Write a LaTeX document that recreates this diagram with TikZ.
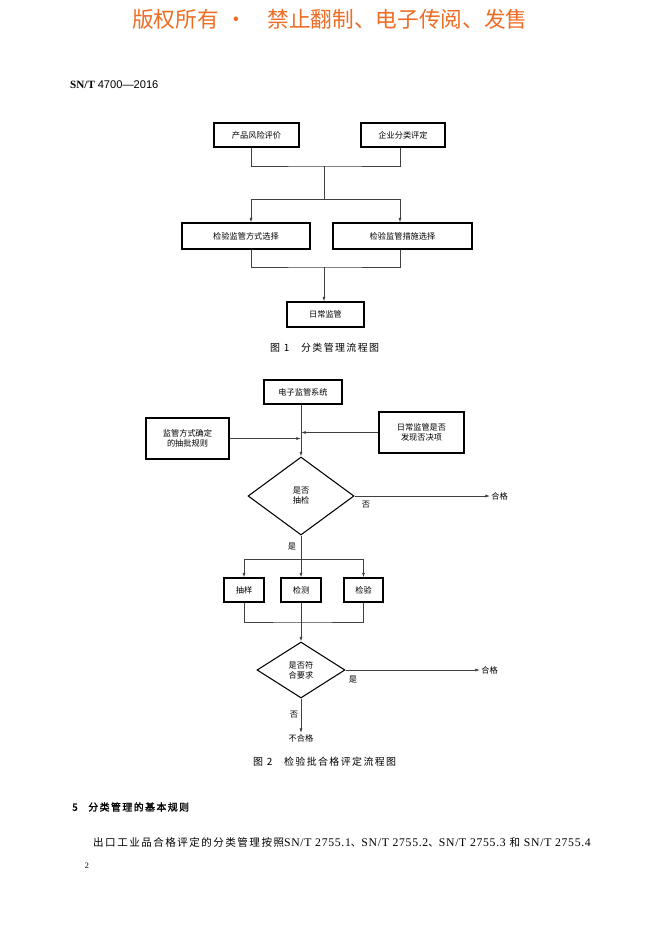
\documentclass[tikz,border=0pt]{standalone}
\usepackage{fontspec}
\setmainfont{Liberation Serif}
\setsansfont{Liberation Sans}
\newfontfamily\cjk{Noto Sans CJK SC}
\newfontfamily\cjkesp[LetterSpace=14]{Noto Sans CJK SC}
\newfontfamily\cjkneg[LetterSpace=14,FakeBold=1.5]{Noto Sans CJK SC}
\newfontfamily\latesp[LetterSpace=6]{Liberation Serif}
\usetikzlibrary{positioning, arrows.meta, calc, shapes.geometric}
\definecolor{naranja}{RGB}{238,108,36}

\begin{document}
\begin{tikzpicture}[
		% Escala en pixeles de la pagina
		x=0.03cm, y=-0.03cm,
		% Estilos de cajas y rombos
		caja/.style={draw=black, line width=0.9pt, rectangle, inner sep=0pt, align=center, font=\cjk\fontsize{7}{8.6}\selectfont},
		rombo/.style={draw=black, line width=0.9pt, diamond, inner sep=0pt, align=center, font=\cjk\fontsize{7}{8.6}\selectfont},
		% Estilo de flechas y etiquetas
		linea/.style={draw=black!75, line width=0.6pt},
		flecha/.style={linea, -{Latex[length=4pt, width=2.6pt]}},
		etiqueta/.style={font=\cjk\fontsize{7}{8}\selectfont, inner sep=1pt},
		titulo/.style={font=\cjkesp\fontsize{8.5}{10}\selectfont, inner sep=0pt}
		]
		
		% --- PAGINA ---
		\fill[white] (0,0) rectangle (662,936);
		\useasboundingbox (0,0) rectangle (662,936);
		\node[font=\cjk\fontsize{18.5}{20}\selectfont, text=naranja, inner sep=0pt, anchor=west] (marca) at (132,19) {版权所有\kern 6pt·\kern 17pt 禁止翻制、电子传阅、发售};
		\node[anchor=west, inner sep=0pt, font=\fontsize{9.5}{10}\selectfont] (norma) at (70,85) {\textbf{SN/T}\ \sffamily 4700—2016};
		
		% --- FIGURA 1 ---
		\coordinate (ejeI) at (251,0);
		\coordinate (ejeD) at (400,0);
		\node[caja, minimum width=2.55cm, minimum height=0.72cm] (riesgo) at (256.5,135) {产品风险评价};
		\node[caja, minimum width=2.52cm, minimum height=0.72cm] (empresa) at (403,135) {企业分类评定};
		\node[caja, minimum width=3.84cm, minimum height=0.78cm] (modo) at (246,236) {检验监管方式选择};
		\node[caja, minimum width=4.17cm, minimum height=0.78cm] (medidas) at (402.5,236) {检验监管措施选择};
		\node[caja, minimum width=2.31cm, minimum height=0.75cm] (diario) at (325.5,314.5) {日常监管};
		
		% Uniones y repartos
		\coordinate (union1) at (324,166);
		\coordinate (reparto1) at (324,199);
		\coordinate (union2) at (324,267);
		\draw[linea] (riesgo.south -| ejeI) |- (union1) -| (empresa.south -| ejeD);
		\draw[linea] (union1) -- (reparto1);
		\draw[flecha] (reparto1) -| (modo.north -| ejeI);
		\draw[flecha] (reparto1) -| (medidas.north -| ejeD);
		\draw[linea] (modo.south -| ejeI) |- (union2) -| (medidas.south -| ejeD);
		\draw[flecha] (union2) -- (diario.north -| union2);
		
		\node[titulo, anchor=west] (fig1) at (270,348) {图 1\hspace{10pt}分类管理流程图};
		
		% --- FIGURA 2 ---
		\coordinate (eje) at (301,0);
		\node[caja, minimum width=2.34cm, minimum height=0.72cm] (sistema) at (303,392) {电子监管系统};
		\node[caja, minimum width=2.49cm, minimum height=1.23cm] (reglas) at (187.5,438.5) {监管方式确定\\的抽批规则};
		\node[caja, minimum width=2.55cm, minimum height=1.23cm] (veto) at (421.5,432.5) {日常监管是否\\发现否决项};
		\node[rombo, minimum width=3.18cm, minimum height=2.34cm] (decision) at (301,496) {是否\\抽检};
		
		\draw[flecha] (sistema.south -| eje) -- (decision.north);
		\draw[flecha] (reglas.east) -- (reglas.east -| eje);
		\draw[flecha] (veto.west) -- (veto.west -| eje);
		
		% Salida sin muestreo
		\node[etiqueta, anchor=west] (apto1) at (490,496) {合格};
		\draw[flecha] (decision.east) -- (apto1.west);
		\node[etiqueta] (no1) at (366,505) {否};
		
		% Muestreo, ensayo e inspeccion
		\coordinate (reparto2) at (301,559);
		\coordinate (union3) at (301,622);
		\node[etiqueta] (si1) at (292,547) {是};
		\node[caja, minimum width=1.2cm, minimum height=0.72cm] (muestreo) at (244,590) {抽样};
		\node[caja, minimum width=1.2cm, minimum height=0.72cm] (ensayo) at (301,590) {检测};
		\node[caja, minimum width=1.17cm, minimum height=0.72cm] (inspeccion) at (363.5,590) {检验};
		\draw[linea] (decision.south) -- (reparto2);
		\draw[flecha] (reparto2) -| (muestreo.north);
		\draw[flecha] (reparto2) -- (ensayo.north);
		\draw[flecha] (reparto2) -| (inspeccion.north);
		\draw[linea] (muestreo.south) |- (union3) -| (inspeccion.south);
		\draw[linea] (ensayo.south) -- (union3);
		
		% Conformidad
		\node[rombo, minimum width=2.64cm, minimum height=1.68cm] (conforme) at (301,670) {是否符\\合要求};
		\draw[flecha] (union3) -- (conforme.north);
		\node[etiqueta, anchor=west] (apto2) at (480,670) {合格};
		\draw[flecha] (conforme.east) -- (apto2.west);
		\node[etiqueta] (si2) at (353,680) {是};
		\node[etiqueta, anchor=north] (noapto) at (301,733) {不合格};
		\draw[flecha] (conforme.south) -- (noapto.north);
		\node[etiqueta] (no2) at (294,715) {否};
		
		\node[titulo, anchor=west] (fig2) at (253,762) {图 2\hspace{10pt}检验批合格评定流程图};
		
		% --- TEXTO ---
		\node[anchor=west, inner sep=0pt, font=\cjkneg\fontsize{8.5}{10}\selectfont] (seccion) at (72,807) {5\hspace{9pt}分类管理的基本规则};
		\node[anchor=west, inner sep=0pt, font=\fontsize{9}{10}\selectfont] (cuerpo) at (93,842) {\cjkesp 出口工业品合格评定的分类管理按照{\fontsize{10}{10}\latesp SN/T 2755.1}、{\fontsize{10}{10}\latesp SN/T 2755.2}、{\fontsize{10}{10}\latesp SN/T 2755.3} 和 {\fontsize{10}{10}\latesp SN/T 2755.4}};
		\node[font=\fontsize{7}{8}\selectfont, inner sep=0pt] (pagina) at (87,866) {2};
		
	\end{tikzpicture}
\end{document}
